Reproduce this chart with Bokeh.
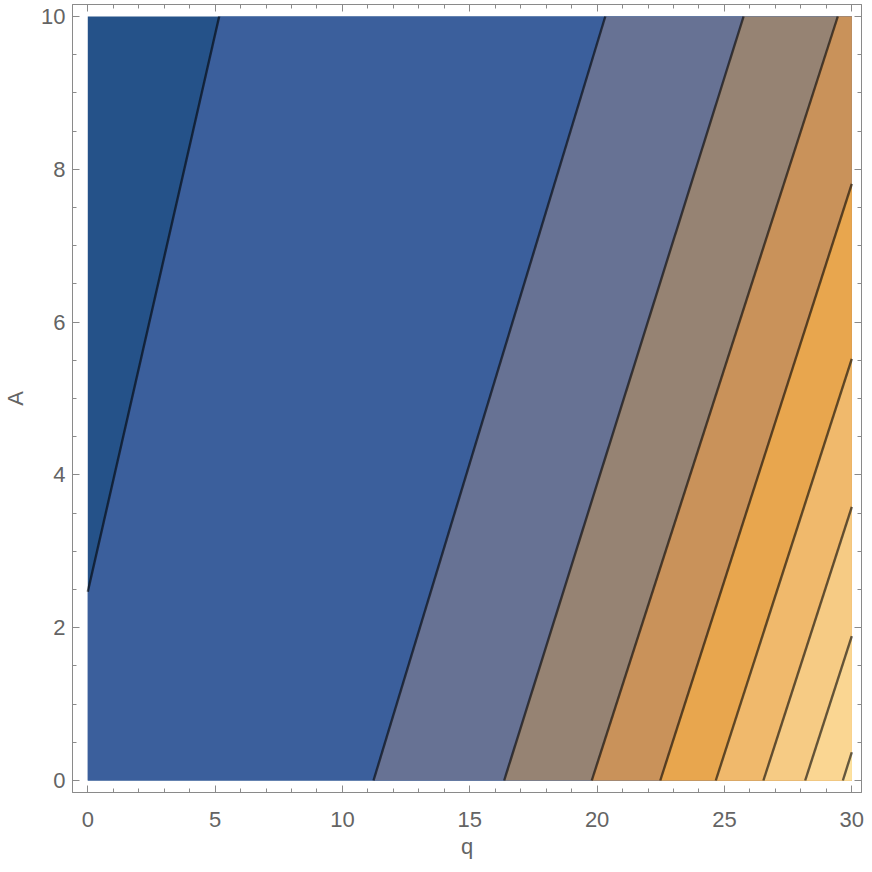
from bokeh.plotting import figure
from bokeh.models import Range1d, SingleIntervalTicker, LinearAxis, CustomLabelingPolicy
from bokeh.embed import file_html
from bokeh.resources import INLINE

# plot domain
q_min, q_max = 0.0, 30.0
A_min, A_max = 0.0, 10.0

# contour lines: start point (q0, A0) and end point (q1, A1)
contour_q0 = [0.0, 11.22, 16.35, 19.79, 22.48, 24.66, 26.53, 28.17, 29.65]
contour_A0 = [2.47, 0.0, 0.0, 0.0, 0.0, 0.0, 0.0, 0.0, 0.0]
contour_q1 = [5.16, 20.32, 25.75, 29.45, 30.0, 30.0, 30.0, 30.0, 30.0]
contour_A1 = [10.0, 10.0, 10.0, 10.0, 7.81, 5.52, 3.58, 1.89, 0.37]

# band fill colours, left (low) to right (high)
band_colors = ["#255289", "#3b5f9c", "#677294", "#968373", "#c9925a",
               "#e8a64e", "#f0b96c", "#f6cb84", "#fad692", "#fde2a0"]

x_tick_interval = 5
y_tick_interval = 2

W = q_max - q_min
H = A_max - A_min


def perim(q, A):
    # clockwise perimeter coordinate starting at the top-left corner
    eps = 1e-9
    if A >= A_max - eps:
        return q - q_min
    if q >= q_max - eps:
        return W + (A_max - A)
    if A <= A_min + eps:
        return W + H + (q_max - q)
    return 2 * W + H + (A - A_min)


corners = [(q_min, A_max, 0.0), (q_max, A_max, W), (q_max, A_min, W + H), (q_min, A_min, 2 * W + H)]

# region to the right of each contour (nested, drawn in order)
band_xs, band_ys = [], []
for q0, a0, q1, a1 in zip(contour_q0, contour_A0, contour_q1, contour_A1):
    s_start = perim(q0, a0)
    s_end = perim(q1, a1)
    xs = [q0, q1]
    ys = [a0, a1]
    for cq, ca, cs in corners:
        if s_end < cs < s_start:
            xs.append(cq)
            ys.append(ca)
    band_xs.append(xs)
    band_ys.append(ys)

gray_frame = "#8a8a8a"
gray_text = "#646464"
font = "Liberation Sans"

p = figure(frame_width=789, frame_height=788,
           x_range=Range1d(q_min - 0.02 * W, q_max + 0.0127 * W),
           y_range=Range1d(A_min - 0.0157 * H, A_max + 0.0157 * H),
           output_backend="svg", toolbar_location=None,
           min_border_left=66, min_border_right=1, min_border_top=0, min_border_bottom=72,
           x_axis_label="q", y_axis_label="A")
p.xgrid.visible = False
p.ygrid.visible = False
p.outline_line_color = gray_frame
p.background_fill_color = "white"

p.quad(left=q_min, right=q_max, bottom=A_min, top=A_max,
       fill_color=band_colors[0], line_color=None)
p.patches(xs=band_xs, ys=band_ys, fill_color=band_colors[1:], line_color=None)
p.segment(x0=contour_q0, y0=contour_A0, x1=contour_q1, y1=contour_A1,
          line_color="black", line_alpha=0.6, line_width=2.4)

p.xaxis.ticker = SingleIntervalTicker(interval=x_tick_interval, num_minor_ticks=5)
p.yaxis.ticker = SingleIntervalTicker(interval=y_tick_interval, num_minor_ticks=4)

p.add_layout(LinearAxis(ticker=SingleIntervalTicker(interval=x_tick_interval, num_minor_ticks=5),
                        major_label_policy=CustomLabelingPolicy(code="return new Set()"),
                        major_label_text_font_size="1px", major_label_standoff=0), "above")
p.add_layout(LinearAxis(ticker=SingleIntervalTicker(interval=y_tick_interval, num_minor_ticks=4),
                        major_label_policy=CustomLabelingPolicy(code="return new Set()"),
                        major_label_text_font_size="1px", major_label_standoff=0), "right")

for ax in p.axis:
    ax.axis_line_color = gray_frame
    ax.axis_line_width = 1
    ax.major_tick_line_color = gray_frame
    ax.minor_tick_line_color = gray_frame
    ax.major_tick_in = 7
    ax.major_tick_out = 0
    ax.minor_tick_in = 4
    ax.minor_tick_out = 0
    ax.major_label_text_color = gray_text
    ax.major_label_text_font = font
    ax.axis_label_text_color = gray_text
    ax.axis_label_text_font = font
    ax.axis_label_text_font_style = "normal"
    ax.axis_label_text_font_size = "22px"

p.below[0].major_label_text_font_size = "22px"
p.below[0].major_label_standoff = 19
p.below[0].axis_label_standoff = 4
p.left[0].major_label_text_font_size = "22px"
p.left[0].major_label_standoff = 7
p.left[0].axis_label_standoff = 10

open("out.html", "w").write(file_html(p, INLINE))
